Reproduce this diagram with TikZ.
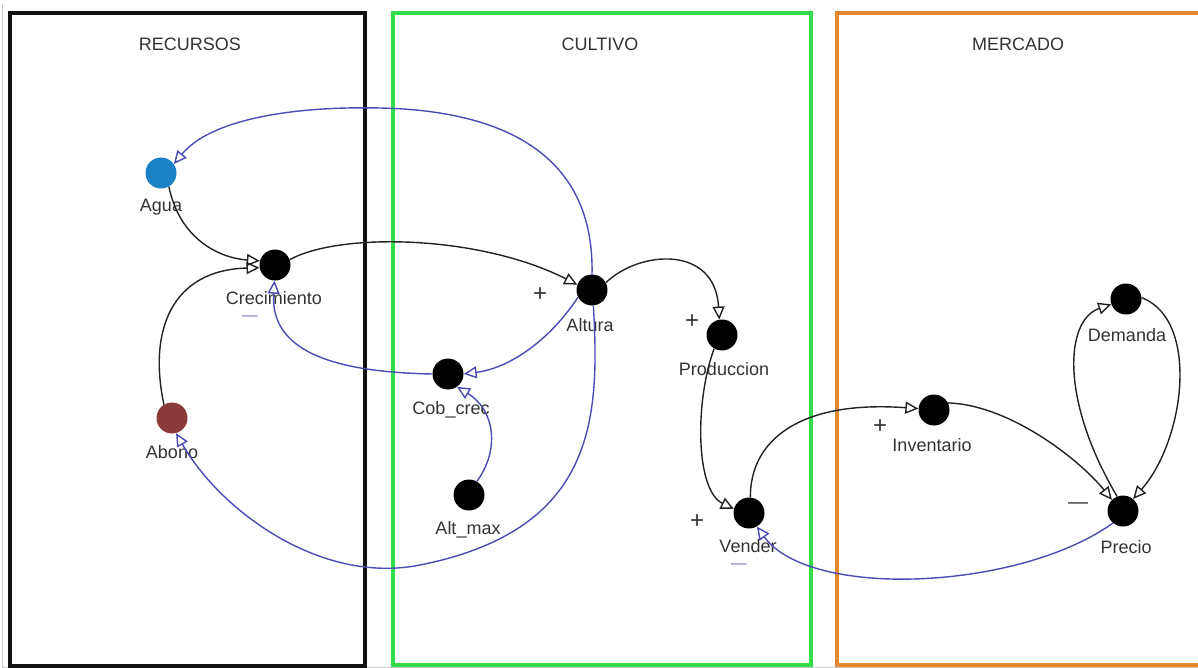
\documentclass[tikz,border=0pt]{standalone}
\usepackage{fontspec}
\setmainfont{Liberation Sans}
\usetikzlibrary{arrows.meta}

\definecolor{frameblack}{HTML}{111111}
\definecolor{framegreen}{HTML}{33DD4A}
\definecolor{frameorange}{HTML}{E0892E}
\definecolor{labelgray}{HTML}{333333}
\definecolor{linkblack}{HTML}{222222}
\definecolor{linkblue}{HTML}{4B4BB4}
\definecolor{waterblue}{HTML}{1B82C8}
\definecolor{fertbrown}{HTML}{8A3A3A}

\begin{document}
\begin{tikzpicture}[x=1pt,y=-1pt,
  var/.style={circle,fill=black,minimum size=31pt,inner sep=0pt},
  lbl/.style={text=labelgray,font=\fontsize{18}{20}\selectfont,inner sep=0pt},
  ttl/.style={text=labelgray,font=\fontsize{18}{20}\selectfont,inner sep=0pt},
  plus/.style={text=labelgray,font=\fontsize{24}{26}\selectfont,inner sep=0pt},
  minus/.style={text=labelgray,font=\fontsize{20}{22}\selectfont,inner sep=0pt,
                text height=0.32em,text depth=0pt},
  bminus/.style={minus,text=linkblue,font=\fontsize{12}{14}\selectfont},
  link/.style={line width=1.4pt,draw=linkblack,-{Triangle[open,length=13pt,width=12pt]}},
  blink/.style={link,draw=linkblue},
  sector/.style={line width=4pt},
]
\useasboundingbox (0,0) rectangle (1198,668);

% sector frames
\draw[gray!40,line width=1pt] (2,4) -- (2,667) -- (1198,667);
\draw[sector,draw=frameblack] (10,13) rectangle (365,666);
\draw[sector,draw=framegreen] (393,13) rectangle (811,665);
\begin{scope}
  \clip (0,0) rectangle (1198,668);
  \draw[sector,draw=frameorange] (837,13) rectangle (1215,665);
\end{scope}

\node[ttl] (t1) at (190,44) {RECURSOS};
\node[ttl] (t2) at (600,44) {CULTIVO};
\node[ttl] (t3) at (1018,44) {MERCADO};

% variables
\node[var,fill=waterblue] (agua) at (161,173) {};
\node[var] (crec) at (275,265) {};
\node[var] (alt) at (592,290) {};
\node[var] (cob) at (448,374) {};
\node[var] (altmax) at (469,495) {};
\node[var] (prod) at (722,335) {};
\node[var] (vend) at (749,513) {};
\node[var] (inv) at (934,410) {};
\node[var] (dem) at (1126,299) {};
\node[var] (prec) at (1123,511) {};
\node[var,fill=fertbrown] (abono) at (172,418) {};

% names
\node[lbl] (aguaL) at (161,207) {Agua};
\node[lbl] (crecL) at (274,298) {Crecimiento};
\node[lbl] (altL) at (590,325) {Altura};
\node[lbl] (cobL) at (451,410) {Cob\_crec};
\node[lbl] (altmaxL) at (468,530) {Alt\_max};
\node[lbl] (prodL) at (724,369) {Produccion};
\node[lbl] (vendL) at (748,546) {Vender};
\node[lbl] (invL) at (932,445) {Inventario};
\node[lbl] (demL) at (1127,335) {Demanda};
\node[lbl] (precL) at (1126,547) {Precio};
\node[lbl] (abonoL) at (172,452) {Abono};

% polarity signs
\node[plus] (s1) at (540,295) {+};
\node[plus] (s2) at (692,322) {+};
\node[plus] (s3) at (697,522) {+};
\node[plus] (s4) at (880,427) {+};
\node[minus] (s5) at (1078,507) {—};
\node[bminus] (s6) at (250,318) {\scalebox{1.3}[1]{—}};
\node[bminus] (s7) at (739,566) {\scalebox{1.3}[1]{—}};

% black links
\draw[link] (agua.-60) .. controls (180,240) and (220,258) .. (crec.165);
\draw[link] (abono.121) .. controls (148,330) and (172,270) .. (crec.190);
\draw[link] (crec.20) .. controls (340,232) and (480,235) .. (alt.160);
\draw[link] (alt.28) .. controls (640,250) and (715,245) .. (prod.100);
\draw[link] (prod.-120) .. controls (695,400) and (695,490) .. (vend.165);
\draw[link] (vend.85) .. controls (750,440) and (800,400) .. (inv.175);
\draw[link] (inv.27) .. controls (1010,405) and (1080,460) .. (prec.135);
\draw[link] (dem.5) .. controls (1200,320) and (1185,440) .. (prec.50);
\draw[link] (prec.112) .. controls (1060,400) and (1065,320) .. (dem.200);

% blue links
\draw[blink] (alt.90) .. controls (595,140) and (480,110) .. (380,108)
             .. controls (290,106) and (210,120) .. (agua.35);
\draw[blink] (alt.207) .. controls (550,340) and (510,368) .. (cob.0);
\draw[blink] (cob.180) .. controls (330,372) and (270,350) .. (crec.-92);
\draw[blink] (altmax.60) .. controls (500,450) and (495,410) .. (cob.-55);
\draw[blink] (alt.-85) .. controls (600,420) and (595,530) .. (420,565)
             .. controls (320,585) and (220,510) .. (abono.-75);
\draw[blink] (prec.230) .. controls (1020,590) and (810,600) .. (vend.-60);
\end{tikzpicture}
\end{document}
